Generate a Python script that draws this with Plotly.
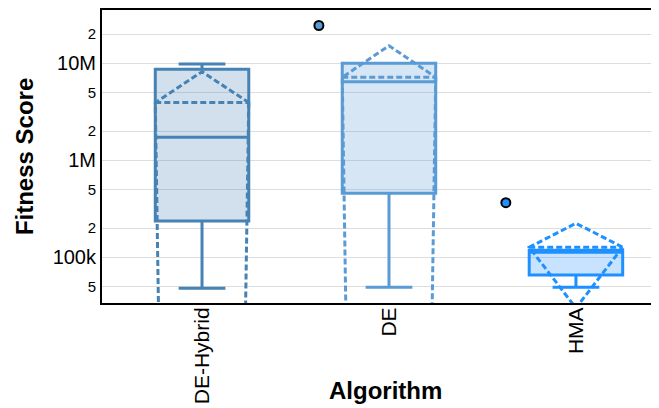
import plotly.graph_objects as go

algorithms = ["DE-Hybrid", "DE", "HMA"]
q1 = [236e3, 457e3, 65.6e3]
median = [1.73e6, 6.46e6, 113e3]
q3 = [8.67e6, 10.0e6, 118e3]
lowerfence = [47.9e3, 49.1e3, 49.1e3]
upperfence = [9.83e6, 10.0e6, 118e3]
means = [3.93e6, 7.17e6, 127e3]
sds = [4.26e6, 8.0e6, 97e3]
outliers = [[], [24.5e6], [366e3]]
line_colors = ["#4682B4", "#5B9BD5", "#1E90FF"]
fill_colors = ["rgba(70,130,180,0.25)", "rgba(91,155,213,0.25)", "rgba(30,144,255,0.25)"]

fig = go.Figure()
for i, name in enumerate(algorithms):
    kw = {}
    if outliers[i]:
        kw["y"] = [outliers[i]]
    fig.add_trace(go.Box(
        x=[name], q1=[q1[i]], median=[median[i]], q3=[q3[i]],
        lowerfence=[lowerfence[i]], upperfence=[upperfence[i]],
        mean=[means[i]], sd=[sds[i]], boxmean="sd",
        boxpoints="outliers", pointpos=-1.5, jitter=0,
        name=name, width=0.5,
        line=dict(color=line_colors[i], width=3),
        fillcolor=fill_colors[i],
        marker=dict(color=line_colors[i], size=9, line=dict(color="black", width=2)),
        showlegend=False,
        **kw,
    ))

fig.update_layout(
    width=659, height=408,
    margin=dict(l=94, r=0, t=2, b=113),
    plot_bgcolor="white", paper_bgcolor="white",
    font=dict(family="Liberation Sans, Arial, sans-serif", color="black"),
    boxmode="overlay",
    annotations=[
        dict(text="<b>Algorithm</b>", xref="paper", yref="paper", x=0.501, y=-0.300,
             xanchor="center", yanchor="middle", showarrow=False, font=dict(size=24)),
        dict(text="<b>Fitness Score</b>", xref="paper", yref="paper", x=-0.138, y=0.498,
             xanchor="center", yanchor="middle", showarrow=False, textangle=-90,
             font=dict(size=24)),
    ],
)
fig.update_xaxes(
    tickfont=dict(size=21), tickangle=-90, automargin=False, ticklabelstandoff=-6,
    showline=True, linecolor="black", linewidth=2, mirror=True,
    showgrid=False, range=[-0.535, 2.487],
)
fig.update_yaxes(
    type="log", range=[4.529, 7.549], automargin=False,
    tickfont=dict(size=20), dtick="D2",
    showline=True, linecolor="black", linewidth=2, mirror=False,
    showgrid=True, gridcolor="#dddddd", gridwidth=1, zeroline=False,
)
fig.write_html("out.html")
